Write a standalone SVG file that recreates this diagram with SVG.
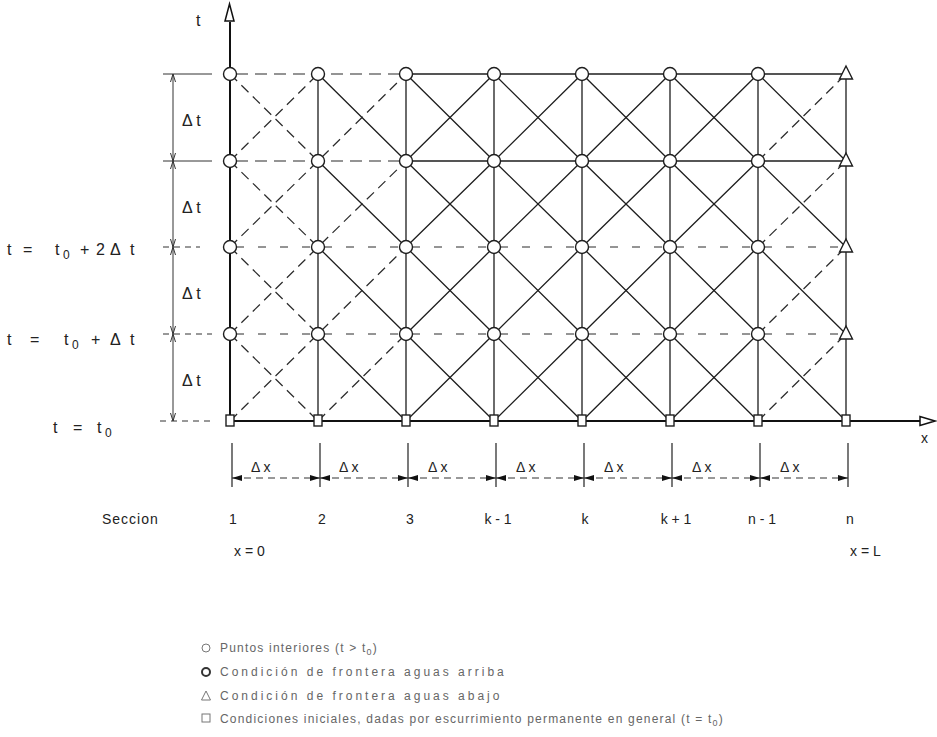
<svg xmlns="http://www.w3.org/2000/svg" width="937" height="737" viewBox="0 0 937 737">
<style>
  .ln{fill:none;stroke:#1e1e1e;stroke-width:1.3;stroke-linecap:round;stroke-linejoin:round}
  .ds{fill:none;stroke:#2a2a2a;stroke-width:1.2;stroke-dasharray:10 6}
  .hd{fill:none;stroke:#2a2a2a;stroke-width:1.1;stroke-dasharray:12 7}
  .ax{fill:none;stroke:#111;stroke-width:2}
  .dim{fill:none;stroke:#333;stroke-width:1}
  .node{fill:#fff;stroke:#1e1e1e;stroke-width:1.4}
  .tx{font-family:"Liberation Sans",Arial,sans-serif;font-size:16px;fill:#222}
  .sm{font-family:"Liberation Sans",Arial,sans-serif;font-size:14px;fill:#222}
  .lg{font-family:"Liberation Sans",Arial,sans-serif;font-size:12px;fill:#666;letter-spacing:1.2px}
</style>
<defs>
  <marker id="fa" viewBox="0 0 10 6" refX="10" refY="3" markerWidth="10" markerHeight="6" markerUnits="userSpaceOnUse" orient="auto-start-reverse">
    <path d="M0,0 L10,3 L0,6 Z" fill="#111"/>
  </marker>
  <marker id="oa" viewBox="0 0 8 6" refX="8" refY="3" markerWidth="8" markerHeight="6" markerUnits="userSpaceOnUse" orient="auto-start-reverse">
    <path d="M0,0.5 L8,3 L0,5.5" fill="none" stroke="#333" stroke-width="1"/>
  </marker>
</defs>

<g id="connectors">
  <!-- horizontal row lines -->
  <path class="hd" d="M236 74 H406"/>
  <path class="ln" d="M406 74 H846"/>
  <path class="hd" d="M236 161 H406"/>
  <path class="ln" d="M406 161 H846"/>
  <path class="hd" style="stroke-dasharray:8 14;stroke-width:1" d="M236 247 H846"/>
  <path class="hd" style="stroke-dasharray:8 14;stroke-width:1" d="M236 334 H846"/>
  <!-- vertical column lines -->
  <path class="ln" d="M318 74 V421 M406 74 V421 M494 74 V421 M582 74 V421 M670 74 V421 M758 74 V421 M846 74 V421"/>
  <!-- diagonals "\" solid -->
  <path class="ln" d="M318 74 L406 161 L494 247 L582 334 L670 421
    M406 74 L494 161 L582 247 L670 334 L758 421
    M494 74 L582 161 L670 247 L758 334 L846 421
    M582 74 L670 161 L758 247 L846 334
    M670 74 L758 161 L846 247
    M758 74 L846 161
    M318 161 L406 247 L494 334 L582 421
    M318 247 L406 334 L494 421
    M318 334 L406 421"/>
  <!-- diagonals "\" dashed (first cell) -->
  <path class="ds" d="M230 74 L318 161 M230 161 L318 247 M230 247 L318 334 M230 334 L318 421"/>
  <!-- diagonals "/" solid -->
  <path class="ln" d="M406 421 L494 334 L582 247 L670 161 L758 74
    M494 421 L582 334 L670 247 L758 161
    M582 421 L670 334 L758 247
    M670 421 L758 334
    M406 334 L494 247 L582 161 L670 74
    M406 247 L494 161 L582 74
    M406 161 L494 74"/>
  <!-- diagonals "/" dashed -->
  <path class="ds" d="M230 421 L318 334 L406 247 M230 334 L318 247 L406 161 M230 247 L318 161 L406 74 M230 161 L318 74 M318 421 L406 334
    M758 421 L846 334 M758 334 L846 247 M758 247 L846 161 M758 161 L846 74"/>
  <!-- t axis -->
  <path class="ax" d="M230 421 V22"/>
  <path d="M229.5 4 L234 21 L225 21 Z" fill="#fff" stroke="#111" stroke-width="1.5"/>
  <!-- x axis -->
  <path class="ax" d="M230 421 H920"/>
  <path d="M935 421 L920 416.5 L920 425.5 Z" fill="#fff" stroke="#111" stroke-width="1.5"/>

  <!-- left dimension (Δt) -->
  <path class="dim" d="M163 74 H212 M163 161 H212"/>
  <path class="dim" style="stroke-dasharray:6 5" d="M163 247 H200 M163 334 H212 M160 421 H212"/>
  <path class="dim" marker-start="url(#oa)" marker-end="url(#oa)" d="M173 74 V161"/>
  <path class="dim" marker-start="url(#oa)" marker-end="url(#oa)" d="M173 161 V247"/>
  <path class="dim" marker-start="url(#oa)" marker-end="url(#oa)" d="M173 247 V334"/>
  <path class="dim" marker-start="url(#oa)" marker-end="url(#oa)" d="M173 334 V421"/>

  <!-- bottom dimension (Δx) -->
  <path class="dim" style="stroke-width:1.3" d="M232 443 V487 M320 443 V487 M408 443 V487 M496 443 V487 M584 443 V487 M672 443 V487 M760 443 V487 M848 443 V487"/>
  <g style="stroke-dasharray:7 5">
    <path class="dim" marker-start="url(#fa)" marker-end="url(#fa)" d="M232 478 H320"/>
    <path class="dim" marker-start="url(#fa)" marker-end="url(#fa)" d="M320 478 H408"/>
    <path class="dim" marker-start="url(#fa)" marker-end="url(#fa)" d="M408 478 H496"/>
    <path class="dim" marker-start="url(#fa)" marker-end="url(#fa)" d="M496 478 H584"/>
    <path class="dim" marker-start="url(#fa)" marker-end="url(#fa)" d="M584 478 H672"/>
    <path class="dim" marker-start="url(#fa)" marker-end="url(#fa)" d="M672 478 H760"/>
    <path class="dim" marker-start="url(#fa)" marker-end="url(#fa)" d="M760 478 H848"/>
  </g>
</g>

<!-- upstream boundary nodes (column 1) -->
<g id="n-1-3"><circle class="node" cx="230" cy="74" r="6.5"/></g>
<g id="n-1-2"><circle class="node" cx="230" cy="161" r="6.5"/></g>
<g id="n-1-1b"><circle class="node" cx="230" cy="247" r="6.5"/></g>
<g id="n-1-1"><circle class="node" cx="230" cy="334" r="6.5"/></g>
<!-- interior nodes -->
<g id="n-2-4"><circle class="node" cx="318" cy="74" r="6.5"/></g>
<g id="n-2-3"><circle class="node" cx="318" cy="161" r="6.5"/></g>
<g id="n-2-2"><circle class="node" cx="318" cy="247" r="6.5"/></g>
<g id="n-2-1"><circle class="node" cx="318" cy="334" r="6.5"/></g>
<g id="n-3-4"><circle class="node" cx="406" cy="74" r="6.5"/></g>
<g id="n-3-3"><circle class="node" cx="406" cy="161" r="6.5"/></g>
<g id="n-3-2"><circle class="node" cx="406" cy="247" r="6.5"/></g>
<g id="n-3-1"><circle class="node" cx="406" cy="334" r="6.5"/></g>
<g id="n-4-4"><circle class="node" cx="494" cy="74" r="6.5"/></g>
<g id="n-4-3"><circle class="node" cx="494" cy="161" r="6.5"/></g>
<g id="n-4-2"><circle class="node" cx="494" cy="247" r="6.5"/></g>
<g id="n-4-1"><circle class="node" cx="494" cy="334" r="6.5"/></g>
<g id="n-5-4"><circle class="node" cx="582" cy="74" r="6.5"/></g>
<g id="n-5-3"><circle class="node" cx="582" cy="161" r="6.5"/></g>
<g id="n-5-2"><circle class="node" cx="582" cy="247" r="6.5"/></g>
<g id="n-5-1"><circle class="node" cx="582" cy="334" r="6.5"/></g>
<g id="n-6-4"><circle class="node" cx="670" cy="74" r="6.5"/></g>
<g id="n-6-3"><circle class="node" cx="670" cy="161" r="6.5"/></g>
<g id="n-6-2"><circle class="node" cx="670" cy="247" r="6.5"/></g>
<g id="n-6-1"><circle class="node" cx="670" cy="334" r="6.5"/></g>
<g id="n-7-4"><circle class="node" cx="758" cy="74" r="6.5"/></g>
<g id="n-7-3"><circle class="node" cx="758" cy="161" r="6.5"/></g>
<g id="n-7-2"><circle class="node" cx="758" cy="247" r="6.5"/></g>
<g id="n-7-1"><circle class="node" cx="758" cy="334" r="6.5"/></g>
<!-- downstream boundary nodes -->
<g id="n-8-4"><path class="node" d="M846 66 L852.5 79 L839.5 79 Z"/></g>
<g id="n-8-3"><path class="node" d="M846 153 L852.5 166 L839.5 166 Z"/></g>
<g id="n-8-2"><path class="node" d="M846 239 L852.5 252 L839.5 252 Z"/></g>
<g id="n-8-1"><path class="node" d="M846 326 L852.5 339 L839.5 339 Z"/></g>
<!-- initial condition nodes -->
<g id="n-1-0"><rect class="node" x="226" y="415" width="8" height="11"/></g>
<g id="n-2-0"><rect class="node" x="314" y="415" width="8" height="11"/></g>
<g id="n-3-0"><rect class="node" x="402" y="415" width="8" height="11"/></g>
<g id="n-4-0"><rect class="node" x="490" y="415" width="8" height="11"/></g>
<g id="n-5-0"><rect class="node" x="578" y="415" width="8" height="11"/></g>
<g id="n-6-0"><rect class="node" x="666" y="415" width="8" height="11"/></g>
<g id="n-7-0"><rect class="node" x="754" y="415" width="8" height="11"/></g>
<g id="n-8-0"><rect class="node" x="842" y="415" width="8" height="11"/></g>

<!-- axis labels -->
<text class="tx" x="196" y="26">t</text>
<text class="sm" x="921" y="443">x</text>

<!-- Δt labels -->
<text class="tx" x="182" y="126">Δ t</text>
<text class="tx" x="182" y="213">Δ t</text>
<text class="tx" x="182" y="299">Δ t</text>
<text class="tx" x="182" y="386">Δ t</text>

<!-- left time labels -->
<text class="tx" y="255"><tspan x="7">t</tspan><tspan x="23">=</tspan><tspan x="55">t</tspan><tspan x="63" dy="4" font-size="12">0</tspan><tspan x="80" dy="-4">+</tspan><tspan x="96">2</tspan><tspan x="110">Δ</tspan><tspan x="130">t</tspan></text>
<text class="tx" y="345"><tspan x="7">t</tspan><tspan x="30">=</tspan><tspan x="64">t</tspan><tspan x="72" dy="4" font-size="12">0</tspan><tspan x="91" dy="-4">+</tspan><tspan x="110">Δ</tspan><tspan x="130">t</tspan></text>
<text class="tx" y="433"><tspan x="53">t</tspan><tspan x="73">=</tspan><tspan x="97">t</tspan><tspan x="105" dy="4" font-size="12">0</tspan></text>

<!-- Δx labels -->
<text class="sm" x="251" y="472">Δ x</text>
<text class="sm" x="339" y="472">Δ x</text>
<text class="sm" x="428" y="472">Δ x</text>
<text class="sm" x="516" y="472">Δ x</text>
<text class="sm" x="604" y="472">Δ x</text>
<text class="sm" x="692" y="472">Δ x</text>
<text class="sm" x="780" y="472">Δ x</text>

<!-- section labels -->
<text class="sm" x="102" y="524" style="letter-spacing:1px">Seccion</text>
<g class="sm" text-anchor="middle">
  <text x="233" y="524">1</text>
  <text x="322" y="524">2</text>
  <text x="410" y="524">3</text>
  <text x="498" y="524">k - 1</text>
  <text x="585" y="524">k</text>
  <text x="676" y="524">k + 1</text>
  <text x="762" y="524">n - 1</text>
  <text x="850" y="524">n</text>
</g>
<text class="sm" x="234" y="556">x = 0</text>
<text class="sm" x="850" y="556">x = L</text>

<!-- legend -->
<g id="legend">
  <circle cx="206" cy="648" r="4" fill="none" stroke="#777" stroke-width="1"/>
  <text class="lg" x="220" y="652">Puntos interiores (t &gt; t<tspan dy="3" font-size="9">0</tspan><tspan dy="-3">)</tspan></text>
  <circle cx="206" cy="672" r="4" fill="none" stroke="#333" stroke-width="2"/>
  <text class="lg" x="220" y="676" style="letter-spacing:3px">Condición de frontera aguas arriba</text>
  <path d="M206 691 L210.5 700 L201.5 700 Z" fill="none" stroke="#777" stroke-width="1"/>
  <text class="lg" x="220" y="700" style="letter-spacing:3px">Condición de frontera aguas abajo</text>
  <rect x="202" y="714" width="8" height="8" fill="none" stroke="#777" stroke-width="1"/>
  <text class="lg" x="220" y="723">Condiciones iniciales, dadas por escurrimiento permanente en general (t = t<tspan dy="3" font-size="9">0</tspan><tspan dy="-3">)</tspan></text>
</g>
</svg>
